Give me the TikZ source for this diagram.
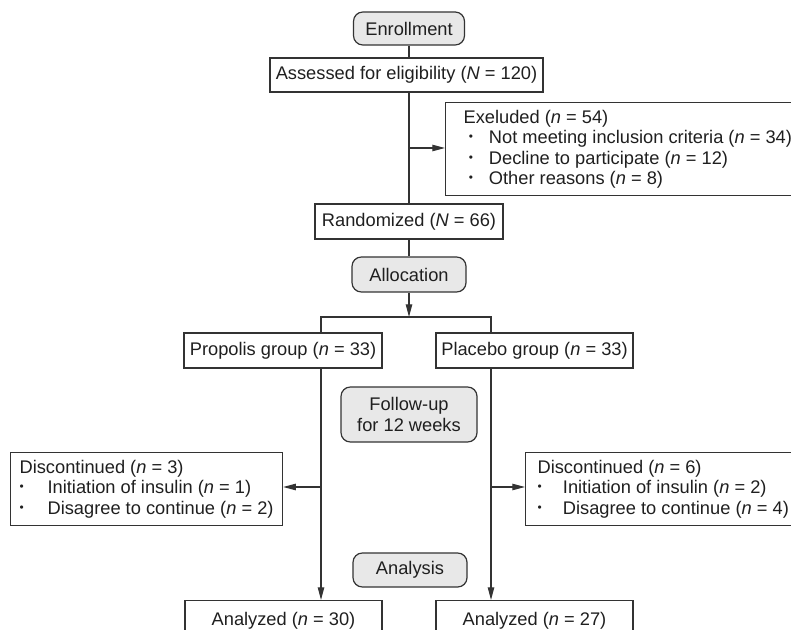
\documentclass[tikz,border=0pt]{standalone}
\usepackage{fontspec}
\setmainfont{Liberation Sans}
\usetikzlibrary{arrows.meta,positioning}
\newcommand{\fs}{\fontsize{13.7}{15.4}\selectfont}
\newcommand{\bul}[1]{\makebox[#1][l]{\raisebox{.3ex}{\scalebox{.65}{•}}}}
\tikzset{
  box/.style={draw=black!80, line width=0.9pt, inner sep=0pt, font=\fs, text=black!88},
  stage/.style={box, rounded corners=7pt, fill=black!9},
  flow/.style={draw=black!80, line width=0.9pt},
  arr/.style={flow, -{Triangle[length=9.5pt,width=4.8pt]}}
}
\begin{document}
\begin{tikzpicture}[x=0.75pt,y=-0.75pt]
\useasboundingbox (0,0) rectangle (791,630);
\clip (0,0) rectangle (791,630);

% enrollment
\node[stage, minimum width=83.25pt, minimum height=24.75pt] (enroll) at (409,28.5) {Enrollment};
\node[box, minimum width=204.75pt, minimum height=25.5pt] (assess) at (406.5,75) {Assessed for eligibility (\textit{N} = 120)};
\node[box, anchor=north west, align=left, inner xsep=13.5pt, minimum height=69.75pt] (exclude) at (445,102)
  {Exeluded (\textit{n} = 54)\\
   \hspace{4pt}\bul{15pt}Not meeting inclusion criteria (\textit{n} = 34)\\
   \hspace{4pt}\bul{15pt}Decline to participate (\textit{n} = 12)\\
   \hspace{4pt}\bul{15pt}Other reasons (\textit{n} = 8)};
\node[box, minimum width=141pt, minimum height=26.25pt] (random) at (409,221.5) {Randomized (\textit{N} = 66)};

% allocation
\node[stage, minimum width=85.5pt, minimum height=26.25pt] (alloc) at (409,274.5) {Allocation};
\node[box, minimum width=148.5pt, minimum height=26.25pt] (propolis) at (283,350.5) {Propolis group (\textit{n} = 33)};
\node[box, minimum width=147.75pt, minimum height=26.25pt] (placebo) at (534.5,350.5) {Placebo group (\textit{n} = 33)};

% follow-up
\node[stage, align=center, minimum width=102pt, minimum height=41.25pt] (follow) at (409,414.5) {Follow-up\\for 12 weeks};
\node[box, anchor=north west, align=left, inner xsep=6.75pt, minimum height=54.75pt] (discL) at (10,452)
  {Discontinued (\textit{n} = 3)\\
   \bul{21pt}Initiation of insulin (\textit{n} = 1)\\
   \bul{21pt}Disagree to continue (\textit{n} = 2)};
\node[box, anchor=north west, align=left, inner xsep=9pt, minimum height=54.75pt] (discR) at (525,452)
  {Discontinued (\textit{n} = 6)\\
   \bul{19pt}Initiation of insulin (\textit{n} = 2)\\
   \bul{19pt}Disagree to continue (\textit{n} = 4)};

% analysis
\node[stage, minimum width=85.5pt, minimum height=25.5pt] (analysis) at (410,570) {Analysis};
\node[box, anchor=north, minimum width=147.75pt, text height=18.75pt, text depth=30pt] (anL) at (283.5,600) {Analyzed (\textit{n} = 30)};
\node[box, anchor=north, minimum width=147.75pt, text height=18.75pt, text depth=30pt] (anR) at (534.5,600) {Analyzed (\textit{n} = 27)};

\coordinate (exbr) at (409,148);
\coordinate (split) at (409,317);
\coordinate (lft) at (321,317);
\coordinate (rgt) at (491,317);
\coordinate (lbr) at (321,487);
\coordinate (rbr) at (491,487);

\draw[flow] (enroll) -- (enroll |- assess.north);
\draw[flow] (random.north) -- (random.north |- assess.south);
\draw[arr] (exbr) -- (exclude.west |- exbr);
\draw[flow] (random) -- (alloc);
\draw[arr] (alloc) -- (split);
\draw[flow] (lft |- propolis.north) -- (lft) -- (rgt) -- (rgt |- placebo.north);
\draw[arr] (lft |- propolis.south) -- (lft |- anL.north);
\draw[arr] (rgt |- placebo.south) -- (rgt |- anR.north);
\draw[arr] (lbr) -- (discL.east |- lbr);
\draw[arr] (rbr) -- (discR.west |- rbr);
\end{tikzpicture}
\end{document}
